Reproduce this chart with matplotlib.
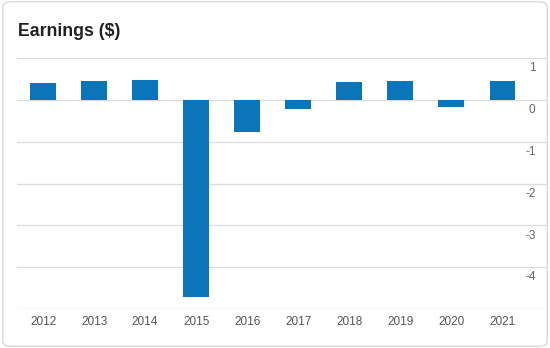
import matplotlib.pyplot as plt
from matplotlib.patches import FancyBboxPatch
from matplotlib.transforms import blended_transform_factory, offset_copy

years = ['2012', '2013', '2014', '2015', '2016', '2017', '2018', '2019', '2020', '2021']
earnings = [0.40, 0.45, 0.48, -4.71, -0.76, -0.21, 0.43, 0.45, -0.16, 0.45]
y_ticks = [1, 0, -1, -2, -3, -4]

plt.rcParams['font.family'] = ['Liberation Sans', 'DejaVu Sans']

fig = plt.figure(figsize=(5.5, 3.48), dpi=100)

# card border
card = FancyBboxPatch((0.005, 0.005), 0.99, 0.99, boxstyle='round,pad=0,rounding_size=0.015',
                      transform=fig.transFigure, facecolor='none', edgecolor='#d9d9d9',
                      lw=1, zorder=-1)
fig.patches.append(card)

fig.text(0.033, 0.91, 'Earnings ($)', fontsize=12.7, fontweight='bold', color='#222222',
         va='center', ha='left')

ax = fig.add_axes([0.031, 0.112, 0.962, 0.721])
ax.set_facecolor('none')
x = range(len(years))
ax.bar(x, earnings, width=0.5, color='#0b75b9', zorder=3)

ax.set_xlim(-0.51, 9.86)
ax.set_ylim(-5, 1)
for v in [1, 0, -1, -2, -3, -4, -5]:
    ax.axhline(v, color='#dcdcdc', lw=1, zorder=1)

for s in ax.spines.values():
    s.set_visible(False)
ax.set_yticks([])
ax.set_xticks(list(x))
ax.set_xticklabels(years, fontsize=8.5, color='#555555')
ax.tick_params(axis='x', length=0, pad=5)

trans = blended_transform_factory(ax.transAxes, ax.transData)
trans = offset_copy(trans, fig=fig, x=0, y=-3, units='points')
for v in y_ticks:
    ax.text(0.98, v, str(v), transform=trans, ha='right', va='top',
            fontsize=8.5, color='#666666')

fig.savefig('out.png', dpi=100)
